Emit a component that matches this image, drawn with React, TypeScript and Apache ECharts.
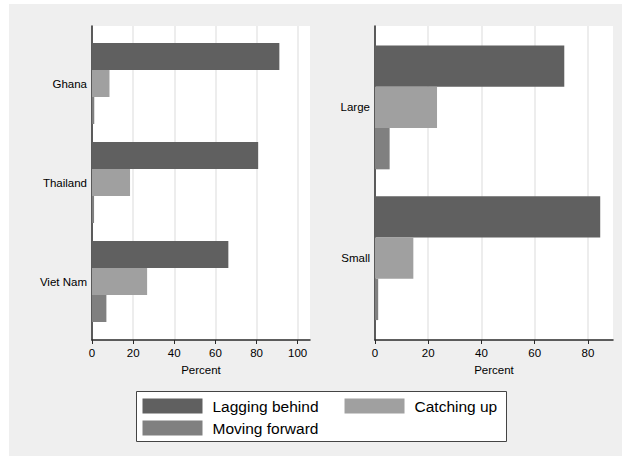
import React, { useEffect, useRef } from "react";
import * as echarts from "echarts";

const countries = ["Ghana", "Thailand", "Viet Nam"];
const countryLagging = [91.1, 80.8, 66.3];
const countryCatching = [8.5, 18.5, 26.8];
const countryMoving = [1.1, 1.0, 7.0];

const sizes = ["Large", "Small"];
const sizeLagging = [71.1, 84.6];
const sizeCatching = [23.3, 14.4];
const sizeMoving = [5.5, 1.2];

const leftTicks = [0, 20, 40, 60, 80, 100];
const rightTicks = [0, 20, 40, 60, 80];

const seriesNames = ["Lagging behind", "Catching up", "Moving forward"];
const seriesColors = ["#606060", "#a0a0a0", "#808080"];

const FONT = "'Liberation Sans', Arial, sans-serif";
const AXIS_COLOR = "#2a2a2a";
const GRID_COLOR = "#ebebeb";

export default function App() {
  const ref = useRef<HTMLDivElement>(null);

  useEffect(() => {
    document.body.style.margin = "0";
    if (!ref.current) return;
    const chart = echarts.init(ref.current, null, { renderer: "svg" });

    const frameX = (gridIndex: number, max: number, ticks: number[]) => ({
      type: "value",
      gridIndex,
      min: 0,
      max,
      interval: 20,
      name: "Percent",
      nameLocation: "middle",
      nameGap: 17,
      nameTextStyle: { fontFamily: FONT, fontSize: 11.5, color: "#000" },
      axisLine: { show: true, lineStyle: { color: AXIS_COLOR, width: 1.5 } },
      axisTick: { show: true, length: 4, customValues: ticks, lineStyle: { color: AXIS_COLOR, width: 1 } },
      axisLabel: {
        fontFamily: FONT,
        fontSize: 11.5,
        color: "#000",
        margin: 7,
        customValues: ticks,
        formatter: (v: number) => (v % 20 === 0 ? String(v) : ""),
      },
      splitLine: { show: true, lineStyle: { color: GRID_COLOR, width: 1.8 } },
    });
    const frameY = (gridIndex: number) => ({
      type: "value",
      gridIndex,
      min: 0,
      max: 1,
      axisLine: { show: true, lineStyle: { color: AXIS_COLOR, width: 1.5 } },
      axisTick: { show: false },
      axisLabel: { show: false },
      splitLine: { show: false },
    });
    const barX = (gridIndex: number, max: number) => ({
      type: "value",
      gridIndex,
      min: 0,
      max,
      show: false,
      splitLine: { show: false },
    });
    const barY = (gridIndex: number, cats: string[]) => ({
      type: "category",
      gridIndex,
      data: cats,
      inverse: true,
      axisLine: { show: false },
      axisTick: { show: false },
      axisLabel: { fontFamily: FONT, fontSize: 11.5, color: "#000", margin: 5 },
      splitLine: { show: false },
    });

    const mkBars = (xi: number, data: number[][], width: number) =>
      data.map((d, i) => ({
        type: "bar",
        name: seriesNames[i],
        xAxisIndex: xi,
        yAxisIndex: xi,
        data: d,
        barWidth: width,
        barGap: "0%",
        itemStyle: { color: seriesColors[i] },
        silent: true,
      }));

    const legendCommon = {
      orient: "horizontal",
      itemWidth: 60,
      itemHeight: 15,
      itemGap: 26,
      padding: 0,
      icon: "rect",
      selectedMode: false,
      textStyle: { fontFamily: FONT, fontSize: 15.5, color: "#000", padding: [0, 0, 0, 5] },
    };

    chart.setOption({
      animation: false,
      backgroundColor: "transparent",
      color: seriesColors,
      grid: [
        { left: 92, top: 26, width: 218, height: 314, show: true, backgroundColor: "#fff", borderWidth: 0 },
        { left: 92, top: 34, width: 218, height: 297, show: false },
        { left: 375, top: 26, width: 238, height: 314, show: true, backgroundColor: "#fff", borderWidth: 0 },
        { left: 375, top: 32, width: 238, height: 301.5, show: false },
      ],
      xAxis: [frameX(0, 106, leftTicks), barX(1, 106), frameX(2, 89.4, rightTicks), barX(3, 89.4)],
      yAxis: [frameY(0), barY(1, countries), frameY(2), barY(3, sizes)],
      legend: [
        { ...legendCommon, left: 142.5, top: 398, data: [seriesNames[0], seriesNames[1]] },
        { ...legendCommon, left: 142.5, top: 420, data: [seriesNames[2]] },
      ],
      graphic: [
        {
          type: "rect",
          z: 1,
          shape: { x: 136.5, y: 391.5, width: 370, height: 50 },
          style: { fill: "#fff", stroke: "#444", lineWidth: 1 },
        },
      ],
      series: [
        ...mkBars(1, [countryLagging, countryCatching, countryMoving], 27),
        ...mkBars(3, [sizeLagging, sizeCatching, sizeMoving], 41.3),
      ],
    });

    return () => chart.dispose();
  }, []);

  return (
    <div style={{ position: "relative", width: 622, height: 456, background: "#fff" }}>
      <div style={{ position: "absolute", left: 9, top: 4, right: 0, bottom: 0, background: "#efefef" }} />
      <div ref={ref} style={{ position: "absolute", left: 0, top: 0, width: 622, height: 456 }} />
    </div>
  );
}
